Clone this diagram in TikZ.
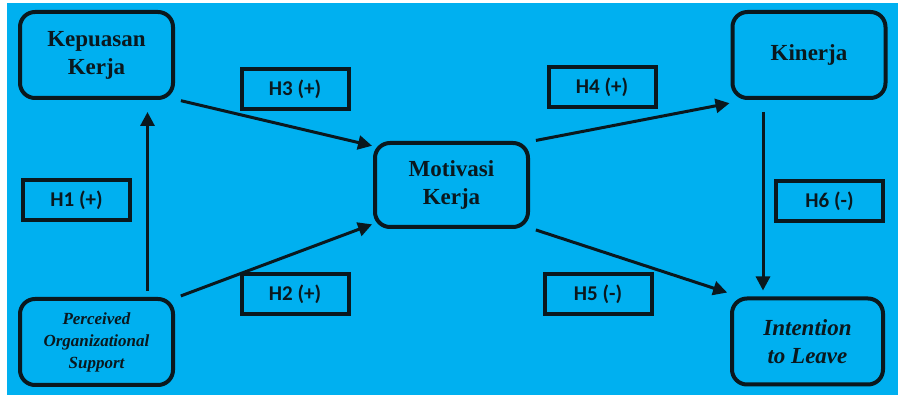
\documentclass[tikz,border=0pt]{standalone}
\usepackage{fontspec}
\setmainfont{Liberation Serif}
\newfontfamily\hfont{Carlito}
\usepackage{xcolor}
\usetikzlibrary{positioning}
\usetikzlibrary{arrows, arrows.meta}

\definecolor{skyblue}{RGB}{0,176,240}
\definecolor{inkline}{RGB}{10,24,30}

\tikzset{
  varbox/.style={draw=inkline, line width=4pt, rounded corners=15pt,
    minimum width=153pt, minimum height=86pt, align=center, inner sep=2pt,
    font=\bfseries\fontsize{23}{28}\selectfont, text=inkline},
  hypbox/.style={draw=inkline, line width=4pt, minimum width=107pt,
    minimum height=40pt, inner sep=1pt,
    font=\hfont\bfseries\fontsize{21}{24}\selectfont, text=inkline},
  linkarrow/.style={draw=inkline, line width=3pt,
    -{Triangle[length=14pt, width=14pt]}}
}

\begin{document}
\begin{tikzpicture}[x=1pt, y=-1pt]
  \useasboundingbox (0,0) rectangle (898,395);
  \fill[skyblue] (7,3) rectangle (898,395);

  % variables
  \node[varbox] (kep) at (96.5,55) {Kepuasan\\Kerja};
  \node[varbox, font=\bfseries\itshape\fontsize{17}{22}\selectfont]
    (pos) at (96.5,342) {Perceived\\Organizational\\Support};
  \node[varbox, minimum height=84pt] (mot) at (451.5,185) {Motivasi\\Kerja};
  \node[varbox] (kin) at (809,55) {Kinerja};
  \node[varbox, minimum width=151pt, font=\bfseries\itshape\fontsize{23}{28}\selectfont]
    (itl) at (807.5,341.5) {Intention\\to Leave};

  % hypotheses
  \node[hypbox] (h1) at (76.5,200.5) {H1 (+)};
  \node[hypbox] (h2) at (295,294) {H2 (+)};
  \node[hypbox] (h3) at (295,89) {H3 (+)};
  \node[hypbox] (h4) at (602,87) {H4 (+)};
  \node[hypbox] (h5) at (598,294) {H5 (-)};
  \node[hypbox] (h6) at (829.5,201) {H6 (-)};

  % paths
  \draw[linkarrow, shorten <=6pt, shorten >=12pt]
    ([xshift=51pt]pos.north) -- ([xshift=51pt]kep.south);
  \draw[linkarrow, shorten <=3pt, shorten >=1pt]
    ([xshift=3pt]kep.south east) -- ([yshift=-5pt]mot.north west);
  \draw[linkarrow, shorten <=3pt, shorten >=1pt]
    ([xshift=3pt]pos.north east) -- ([yshift=5pt]mot.south west);
  \draw[linkarrow, shorten <=3pt, shorten >=1pt]
    ([xshift=3pt]mot.north east) -- ([yshift=-3pt]kin.south west);
  \draw[linkarrow, shorten <=3pt, shorten >=3pt]
    ([xshift=3pt]mot.south east) -- ([yshift=3pt]itl.north west);
  \draw[linkarrow, shorten <=12pt, shorten >=6pt]
    ([xshift=-46pt]kin.south) -- ([xshift=-44.5pt]itl.north);
\end{tikzpicture}
\end{document}
